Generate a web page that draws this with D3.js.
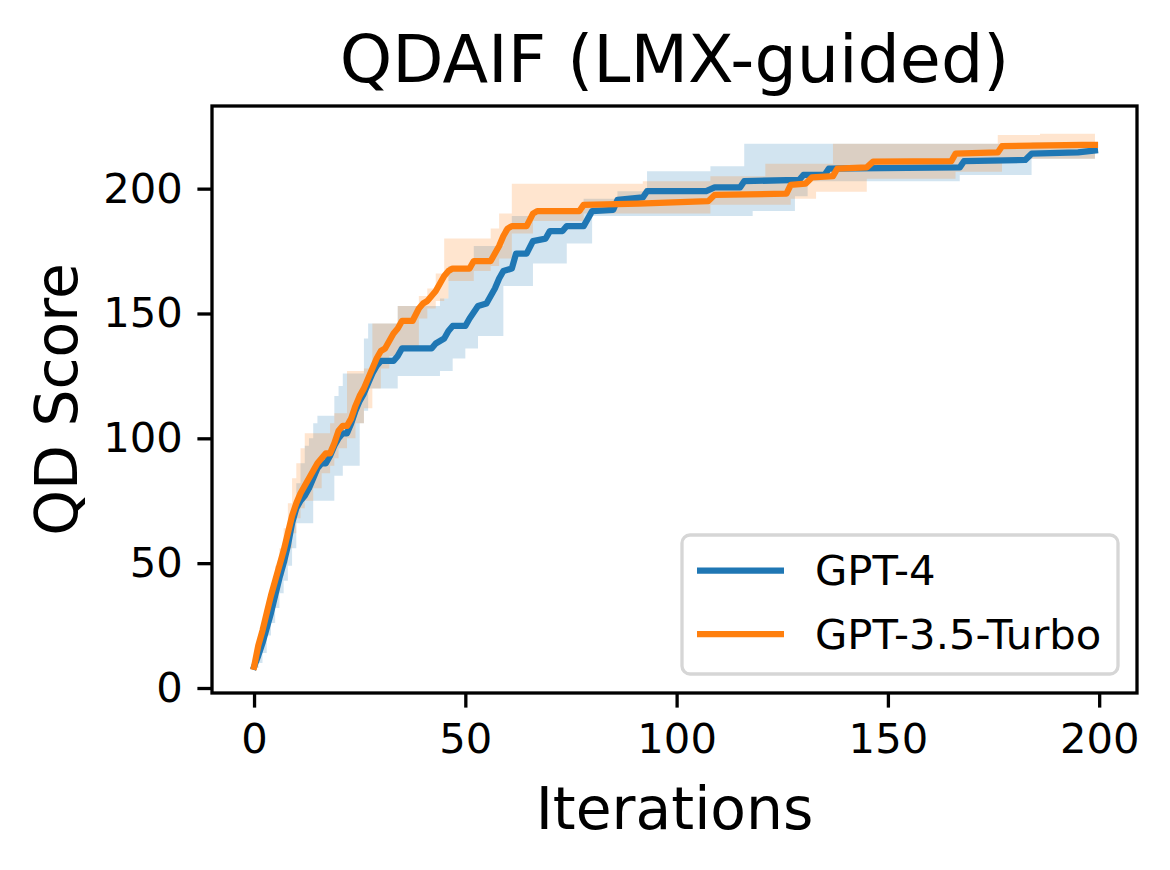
<!DOCTYPE html>
<html>
<head>
<meta charset="utf-8">
<script src="https://cdn.jsdelivr.net/npm/d3@7"></script>
<style>
  body { margin: 0; background: #fff; }
  svg text { font-family: "DejaVu Sans", sans-serif; fill: #000; }
</style>
</head>
<body>
<div id="chart"></div>
<script>
// ---- data ----
const chartTitle = 'QDAIF (LMX-guided)';
const xLabel = 'Iterations';
const yLabel = 'QD Score';
const seriesNames = ['GPT-4', 'GPT-3.5-Turbo'];
const seriesColors = ['#1f77b4', '#ff7f0e'];
const xTicks = [0, 50, 100, 150, 200];
const yTicks = [0, 50, 100, 150, 200];

// GPT-4 mean
const gpt4Iter = [0,1,2,3,4,5,6,7,8,9,10,11,12,13,14,15,16,17,18,19,20,21,22,23,24,25,26,27,28,29,30,
  33,34,35,42,43,44,45,46,47,50,51,53,55,56,57,58,59,61,62,64.5,66,69,70,73,74,78,79,80,85,86,
  92,93,107,109,115,116,129,130,135,136,167,168,182.5,184,195,199];
const gpt4Score = [8.5,13,18,24,30,37,44,50,57,66,72,75,77,80,84,88,90,90,93,97,100,102,102,106,111,115,118,122,126,129,131,
  131,133,136,136,138,139,140,143,145,145,148,153,154,157,160,164,167,168,174,174,179,180,183,183,185,185,188,191,191.5,195.5,
  196.5,199,199,200.5,200.5,203,203.5,205.5,205.5,208,208.5,211,211.5,214,214.5,215.3];
// GPT-4 spread
const gpt4BandIter = [0,1,2,3,4,5,6,7,8,9,10,11,12,13,14,15,19,20,21,25,26,27,34,44,46,47,50,52,53,59,61,66,67,74,78,80,86,93,108,116,118,128,131,167,184,199];
const gpt4Lo = [8,10,14,21,26,32,38,43,49,56,66,66,66,66,75,75,85,85,89,106,111,120,125,127,127,132,136,136,141,161,161,170,170,178,178,189,189,189,189,189,191,197,203,205.5,212,212];
const gpt4Hi = [9,16,22,29,37,45,52,58,65,73,82,90,97,100,106,109,117,121,126,126,140,146,153,156,169,169,169,177,177,184,189,190,191,191,196,196,199,207,209,218,218,218,218,218,218.5,219];

// GPT-3.5-Turbo mean
const gpt35Iter = [0,1,2,3,4,5,6,7,8,9,10,11,12,13,14,15,16,17,18,19,20,21,22,23,24,25,26,27,28,29,30,31,32,33,34,35,
  37.5,39,40,41,42,43,44,45,46,47,51,52,56,57,58,59,60,61,64.5,66,67,77,78,91,107.5,109,126,127,130.5,132,137,138,
  145,146.5,165,166,176,177,196,199];
const gpt35Score = [8.5,17,23,30,37,43,49,55,62,69,74,78,81,84,87,90,92,94,94,98,103,105,105,108,113,117,120,124,128,132,135,136,139,142,144,147,
  147,152,154,155,157,159,162,165,167,168,168,171,171,174,177,181,184,185,185,190,191,191,193.5,194,195,197.5,198,201.5,202,204.5,205,208,
  208.5,210.8,211,214,214.5,217,217.5,217.5];
// GPT-3.5-Turbo spread
const gpt35BandIter = [0,1,2,3,4,5,6,7,8,9,10,11,12,14,16,18,19,20,22,24,26,28,30,32,34,39,41,43,45,46,52,56,58,61,66,78,92,108,121,127,133,137,145,166,176,177,186,199];
const gpt35Lo = [8,14,20,27,33,39,45,50,56,62,68,72,75,80,86,89,92,96,100,106,112,120,128,133,136,148,152,155,156,163,167,169,172,182,187,190,190,193.5,193.5,196,198.8,198.8,204,206.8,206.8,212,212,212];
const gpt35Hi = [9,20,27,35,42,49,56,64,74,84,90,96,102,102,102,106,110,110,127,127,128,146,146,146,153,157,160,166,180,180,180,184,190,202,202,202,203,205,210,210,210,218,218,218,221.5,221.5,222,222];

class QDChart {

  constructor(_config) {
    this.config = {
      parentElement: _config.parentElement,
      containerWidth: 1170,
      containerHeight: 870,
      plot: { left: 212, right: 1137, top: 106, bottom: 693 }
    };
    this.initVis();
  }

  initVis() {
    const vis = this;
    const p = vis.config.plot;

    vis.svg = d3.select(vis.config.parentElement)
        .append('svg')
        .attr('width', vis.config.containerWidth)
        .attr('height', vis.config.containerHeight);

    // matplotlib-style limits (5% margins)
    vis.xScale = d3.scaleLinear().domain([-9.95, 208.95]).range([p.left, p.right]);
    vis.yScale = d3.scaleLinear().domain([-2, 233.1]).range([p.bottom, p.top]);

    const series = [
      { mean: d3.zip(gpt4Iter, gpt4Score), band: gpt4BandIter.map((it, i) => [it, gpt4Lo[i], gpt4Hi[i]]) },
      { mean: d3.zip(gpt35Iter, gpt35Score), band: gpt35BandIter.map((it, i) => [it, gpt35Lo[i], gpt35Hi[i]]) }
    ];

    const area = d3.area()
        .curve(d3.curveStepAfter)
        .x(d => vis.xScale(d[0]))
        .y0(d => vis.yScale(d[1]))
        .y1(d => vis.yScale(d[2]));

    const line = d3.line()
        .x(d => vis.xScale(d[0]))
        .y(d => vis.yScale(d[1]));

    // shaded spread first, lines on top
    series.forEach((s, i) => {
      vis.svg.append('path')
          .datum(s.band)
          .attr('d', area)
          .attr('fill', seriesColors[i])
          .attr('fill-opacity', 0.2);
    });
    series.forEach((s, i) => {
      vis.svg.append('path')
          .datum(s.mean)
          .attr('d', line)
          .attr('fill', 'none')
          .attr('stroke', seriesColors[i])
          .attr('stroke-width', 6.25)
          .attr('stroke-linejoin', 'round')
          .attr('stroke-linecap', 'square');
    });

    // axes
    const xAxis = d3.axisBottom(vis.xScale).tickValues(xTicks).tickSize(14.6).tickSizeOuter(0).tickPadding(16);
    const yAxis = d3.axisLeft(vis.yScale).tickValues(yTicks).tickSize(14.6).tickSizeOuter(0).tickPadding(14.6);

    const xg = vis.svg.append('g').attr('transform', `translate(0, ${p.bottom})`).call(xAxis);
    const yg = vis.svg.append('g').attr('transform', `translate(${p.left}, 0)`).call(yAxis);
    [xg, yg].forEach(g => {
      g.select('.domain').remove();
      g.selectAll('line').attr('stroke', '#000').attr('stroke-width', 3.3);
      g.selectAll('text').attr('font-size', 41.7).attr('font-family', '"DejaVu Sans", sans-serif').attr('fill', '#000');
    });

    // frame
    vis.svg.append('rect')
        .attr('x', p.left).attr('y', p.top)
        .attr('width', p.right - p.left).attr('height', p.bottom - p.top)
        .attr('fill', 'none').attr('stroke', '#000').attr('stroke-width', 3.3);

    // title and labels
    vis.svg.append('text')
        .attr('x', (p.left + p.right) / 2).attr('y', 82)
        .attr('text-anchor', 'middle').attr('font-size', 66.7)
        .text(chartTitle);
    vis.svg.append('text')
        .attr('x', (p.left + p.right) / 2).attr('y', 829)
        .attr('text-anchor', 'middle').attr('font-size', 58.3)
        .text(xLabel);
    vis.svg.append('text')
        .attr('transform', `translate(77, ${(p.top + p.bottom) / 2}) rotate(-90)`)
        .attr('text-anchor', 'middle').attr('font-size', 58.3)
        .text(yLabel);

    // legend
    const lg = vis.svg.append('g');
    lg.append('rect')
        .attr('x', 682).attr('y', 535).attr('width', 436).attr('height', 139)
        .attr('rx', 8).attr('fill', '#fff').attr('fill-opacity', 0.8)
        .attr('stroke', '#d6d6d6').attr('stroke-width', 3.3);
    seriesNames.forEach((name, i) => {
      const ly = 570.7 + i * 63.3;
      lg.append('line')
          .attr('x1', 697).attr('x2', 784).attr('y1', ly).attr('y2', ly)
          .attr('stroke', seriesColors[i]).attr('stroke-width', 6.25);
      lg.append('text')
          .attr('x', 815).attr('y', ly + 14.5)
          .attr('font-size', 41.7)
          .text(name);
    });
  }
}

new QDChart({ parentElement: '#chart' });
</script>
</body>
</html>
